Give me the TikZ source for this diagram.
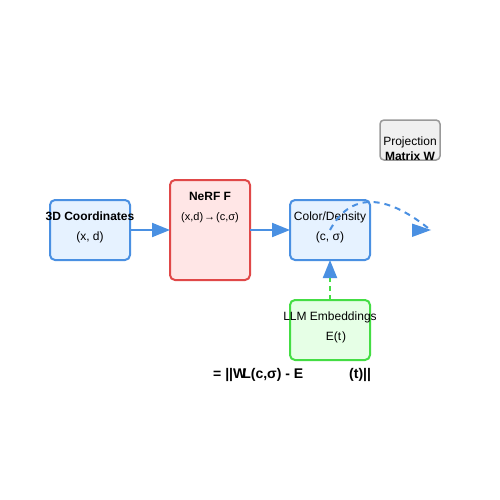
\documentclass[tikz,border=0pt]{standalone}
\usepackage{fontspec}
\setmainfont{Liberation Sans}
\usetikzlibrary{arrows.meta}
\definecolor{bluestroke}{HTML}{4A90E2}
\definecolor{bluefill}{HTML}{E6F2FF}
\definecolor{redstroke}{HTML}{E04848}
\definecolor{redfill}{HTML}{FFE6E6}
\definecolor{greenstroke}{HTML}{44DD44}
\definecolor{greenfill}{HTML}{E6FFE6}
\definecolor{graystroke}{HTML}{999999}
\definecolor{grayfill}{HTML}{F0F0F0}
\begin{document}
\begin{tikzpicture}[x=1pt,y=-1pt,
  box/.style={draw, line width=2pt, rounded corners=5pt, inner sep=0pt, outer sep=0pt, minimum width=80pt},
  bluebox/.style={box, draw=bluestroke, fill=bluefill, minimum height=60pt},
  redbox/.style={box, draw=redstroke, fill=redfill, minimum height=100pt},
  greenbox/.style={box, draw=greenstroke, fill=greenfill, minimum height=60pt},
  graybox/.style={draw=graystroke, fill=grayfill, line width=1.5pt, rounded corners=4pt, inner sep=0pt, outer sep=0pt, minimum width=60pt, minimum height=40pt},
  lbl/.style={anchor=base, inner sep=0pt, font=\fontsize{12}{14}\selectfont},
  lblb/.style={lbl, font=\fontsize{12}{14}\selectfont\bfseries},
  lbls/.style={lbl, font=\fontsize{11}{13}\selectfont},
  formula/.style={anchor=base west, inner sep=0pt, font=\fontsize{14}{16}\selectfont\bfseries},
  flow/.style={draw=bluestroke, line width=2pt, -{Triangle[length=18pt,width=14pt]}},
]
\useasboundingbox (0,0) rectangle (500,500);
\fill[white] (0,0) rectangle (500,500);

\node[bluebox] (coord) at (90,230) {};
\node[redbox] (nerf) at (210,230) {};
\node[bluebox] (colord) at (330,230) {};
\node[graybox] (proj) at (410,140) {};
\node[greenbox] (llm) at (330,330) {};

\node[lblb] (t1) at (90,220) {3D Coordinates};
\node[lbl] (t2) at (90,240) {(x, d)};
\node[lblb] (t3) at (210,200) {NeRF F};
\node[lbls] (t4) at (210,220) {(x,d)\kern1pt→\kern1pt(c,σ)};
\node[lbl] (t5) at (330,220) {Color/Density};
\node[lbl] (t6) at (330,240) {(c, σ)};
\node[lbl] (t7) at (410,145) {Projection};
\node[lblb] (t8) at (410,160) {Matrix W};
\node[lbl] (t9) at (330,320) {LLM Embeddings};
\node[lbl] (t10) at (336,340) {E(t\kern1pt)};

\node[formula] (f1) at (213,378) {= ||W\kern-4pt L(c,σ) - E};
\node[formula] (f2) at (349,378) {(t)||};

\draw[flow] (coord.east) -- (nerf.west);
\draw[flow] (nerf.east) -- (colord.west);
\draw[draw=greenstroke, line width=2pt, dash pattern=on 5pt off 4pt,
  -{Triangle[length=18pt,width=14pt,color=bluestroke]}] (llm.north) -- (colord.south);

\coordinate (cend) at (428,228);
\draw[draw=bluestroke, line width=2pt, dash pattern=on 6pt off 5pt]
  (colord.center) .. controls (350,193) and (384,193) .. (cend);
\coordinate (hb1) at (412,223.5);
\coordinate (htip) at (431,230);
\coordinate (hb2) at (412,237);
\fill[bluestroke] (hb1) -- (htip) -- (hb2) -- cycle;
\end{tikzpicture}
\end{document}
